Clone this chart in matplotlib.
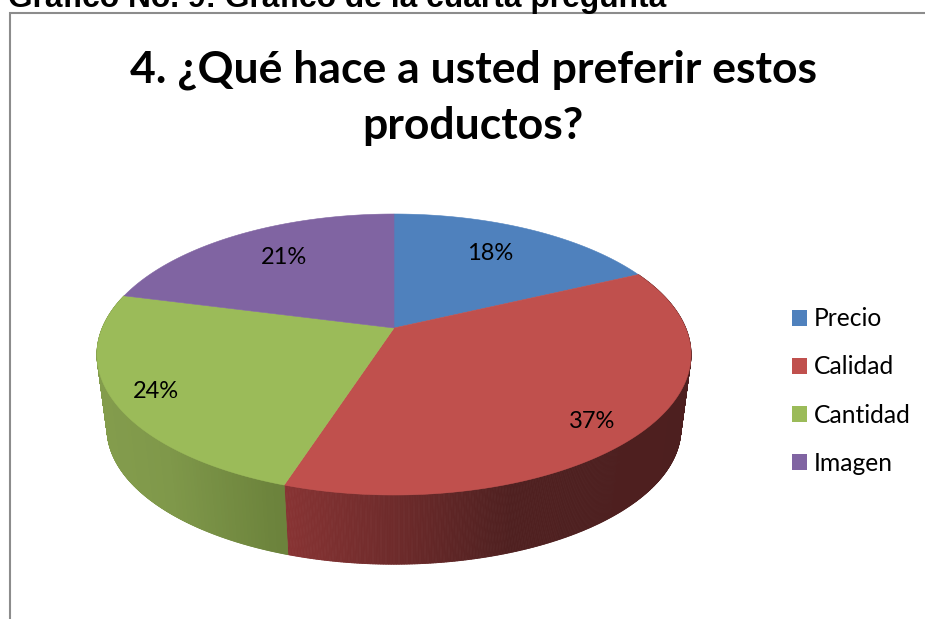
import numpy as np
import matplotlib
matplotlib.use("Agg")
import matplotlib.pyplot as plt
from matplotlib.collections import PolyCollection
from matplotlib.colors import LinearSegmentedColormap
from matplotlib.patches import Patch

chart_title = "4. ¿Qué hace a usted preferir estos\nproductos?"
caption = "Gráfico No. 9: Gráfico de la cuarta pregunta"
categories = ["Precio", "Calidad", "Cantidad", "Imagen"]
values = [18, 37, 24, 21]
colors = ["#4F81BD", "#C0504D", "#9BBB59", "#8064A2"]

# pixel-style canvas
W, H = 925, 619
CX, CY = 394, 328
A, B, K = 291.7, 135.5, 0.1886   # disc size and perspective strength
ELL_Y = 355     # middle of the drawn top ellipse
BASE_Y = 429    # middle of the lower rim
BASE_S = 0.966  # lower rim is a little smaller


def top_rim(theta):
    # theta runs clockwise from 12 o'clock
    u, v = np.sin(theta), np.cos(theta)
    w = 1 + K * v
    return CX + A * u / w, CY - B * v / w


def low_rim(theta):
    x, y = top_rim(theta)
    return CX + BASE_S * (x - CX), BASE_Y + BASE_S * (y - ELL_Y)


def wall(ax, t0, t1, cmap):
    # wall of a slice as thin quads, shade follows x
    t = np.linspace(t0, t1, 500)
    xa, ya = top_rim(t)
    xb, yb = low_rim(t)
    quads = []
    shades = []
    for i in range(len(t) - 1):
        quads.append([(xa[i], ya[i]), (xa[i + 1], ya[i + 1]), (xb[i + 1], yb[i + 1]), (xb[i], yb[i])])
        shades.append(cmap((xa[i] + xb[i]) / 2 / W))
    ax.add_collection(PolyCollection(quads, facecolors=shades, edgecolors=shades, linewidths=0.6, zorder=2))


fig = plt.figure(figsize=(W / 100, H / 100), dpi=100)
ax = fig.add_axes([0, 0, 1, 1])
ax.set_xlim(0, W)
ax.set_ylim(H, 0)
ax.axis("off")

# chart frame, runs off the right and bottom
ax.plot([10, 10, W], [H, 13, 13], color="#8C8C8C", lw=1.5, solid_joinstyle="miter", zorder=1)

edges = np.cumsum([0] + values) / sum(values) * 2 * np.pi

red_wall = LinearSegmentedColormap.from_list("r", [(0, "#8A3434"), (276 / W, "#8A3434"), (394 / W, "#6E2B2B"),
                                                   (510 / W, "#4F2020"), (1, "#4B1E1E")])
green_wall = LinearSegmentedColormap.from_list("g", [(0, "#8AA350"), (170 / W, "#7F984A"), (276 / W, "#6C833C"), (1, "#6C833C")])
wall(ax, edges[1], edges[2], red_wall)
wall(ax, edges[2], edges[3], green_wall)

# top faces
for i in range(len(values)):
    t = np.linspace(edges[i], edges[i + 1], 300)
    x, y = top_rim(t)
    ax.fill(np.r_[CX, x], np.r_[CY, y], color=colors[i], lw=0.4, zorder=3)

label_xy = [(490, 254), (592, 421.5), (156, 392), (284, 257.5)]
for v, (lx, ly) in zip(values, label_xy):
    ax.text(lx, ly, f"{v}%", fontsize=17, family="Lato", ha="center", va="center", color="black", zorder=4)

ax.text(473, 98, chart_title, fontsize=32, family="Lato", weight="bold", ha="center", va="center",
        linespacing=1.5, color="black")
ax.text(8, 7, caption, fontsize=22.9, family="Liberation Sans", weight="bold", ha="left", va="baseline", color="black")

handles = [Patch(facecolor=c, edgecolor="none", label=n) for c, n in zip(colors, categories)]
ax.legend(handles=handles, loc="center left", bbox_to_anchor=(792 / W, 1 - 391 / H), frameon=False,
          prop={"family": "Lato", "size": 17.7}, handlelength=0.61, handleheight=0.61,
          handletextpad=0.26, labelspacing=1.02, borderpad=0, borderaxespad=0)

fig.savefig("out.png", dpi=100)
